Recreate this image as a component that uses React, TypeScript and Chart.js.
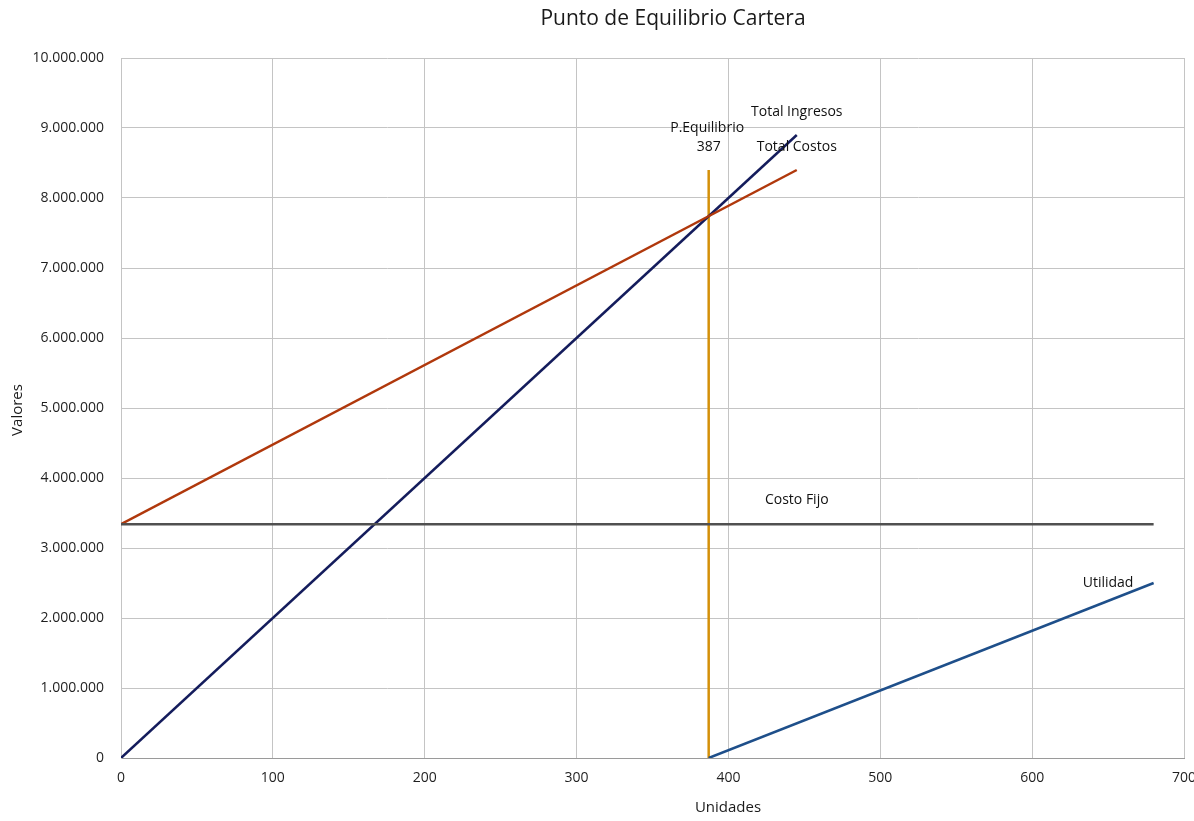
import React, { useEffect, useRef } from "react";
import { Chart, registerables } from "chart.js";

Chart.register(...registerables);

// Data (units -> values)
const ingresosX = [0, 445];
const ingresosY = [0, 8900000];
const costosX = [0, 445];
const costosY = [3340000, 8400000];
const fijoX = [0, 680];
const fijoY = [3340000, 3340000];
const utilidadX = [387, 680];
const utilidadY = [0, 2500000];
const equilibrioX = [387, 387];
const equilibrioY = [0, 8400000];

const chartTitle = "Punto de Equilibrio Cartera";
const xTitle = "Unidades";
const yTitle = "Valores";

// Text annotations: [text, x (units), y (value)]
const annotations: [string, number, number][] = [
  ["Total Ingresos", 445, 9230000],
  ["Total Costos", 445, 8730000],
  ["P.Equilibrio", 386, 9000000],
  ["387", 387, 8730000],
  ["Costo Fijo", 445, 3690000],
  ["Utilidad", 650, 2500000],
];

const FONT = "'Open Sans', 'Noto Sans', sans-serif";

function fmt(v: number): string {
  return String(Math.round(v)).replace(/\B(?=(\d{3})+(?!\d))/g, ".");
}

function pts(xs: number[], ys: number[]) {
  return xs.map((x, i) => ({ x, y: ys[i] }));
}

const textPlugin = {
  id: "texts",
  afterDraw(chart: any) {
    const { ctx, scales } = chart;
    const xs = scales.x;
    const ys = scales.y;
    ctx.save();
    ctx.textAlign = "center";
    ctx.textBaseline = "middle";
    ctx.fillStyle = "#111111";
    ctx.font = `14px ${FONT}`;
    for (const [t, x, y] of annotations) {
      ctx.fillText(t, xs.getPixelForValue(x), ys.getPixelForValue(y));
    }
    ctx.fillStyle = "#1a1a1a";
    ctx.font = `21px ${FONT}`;
    ctx.fillText(chartTitle, 673, 19);
    ctx.font = `15px ${FONT}`;
    ctx.fillText(xTitle, 728, 808);
    ctx.translate(18, 410);
    ctx.rotate(-Math.PI / 2);
    ctx.fillText(yTitle, 0, 0);
    ctx.restore();
  },
};

export default function App() {
  const ref = useRef<HTMLCanvasElement | null>(null);
  useEffect(() => {
    if (!ref.current) return;
    const mk = (label: string, xs: number[], ys: number[], color: string) => ({
      label,
      data: pts(xs, ys),
      showLine: true,
      borderColor: color,
      backgroundColor: color,
      borderWidth: 2.5,
      pointRadius: 0,
      tension: 0,
    });
    const chart = new Chart(ref.current, {
      type: "scatter",
      data: {
        datasets: [
          mk("Costo Fijo", fijoX, fijoY, "#505050"),
          mk("Total Costos", costosX, costosY, "#b0380c"),
          mk("Total Ingresos", ingresosX, ingresosY, "#141c5c"),
          mk("Utilidad", utilidadX, utilidadY, "#1e4f8a"),
          mk("P.Equilibrio", equilibrioX, equilibrioY, "#d4900a"),
        ],
      },
      options: {
        animation: false,
        responsive: false,
        layout: { padding: { left: 0, top: 58, right: 16, bottom: 0 } },
        plugins: {
          legend: { display: false },
          title: { display: false },
          tooltip: { enabled: false },
        },
        scales: {
          x: {
            type: "linear",
            min: 0,
            max: 700,
            ticks: {
              stepSize: 100,
              padding: 12,
              color: "#1f1f1f",
              font: { family: FONT, size: 14 },
              maxRotation: 0,
            },
            grid: { color: "#c4c4c4", lineWidth: 1, drawTicks: false },
            border: { color: "#9a9a9a" },
            afterFit: (s: any) => {
              s.height = 63;
              s.paddingRight = 0;
            },
          },
          y: {
            type: "linear",
            min: 0,
            max: 10000000,
            ticks: {
              stepSize: 1000000,
              padding: 17,
              color: "#1f1f1f",
              font: { family: FONT, size: 14 },
              callback: (v: any) => fmt(Number(v)),
            },
            grid: { color: "#c4c4c4", lineWidth: 1, drawTicks: false },
            border: { color: "#c4c4c4" },
            afterFit: (s: any) => {
              s.width = 121;
            },
          },
        },
      },
      plugins: [textPlugin],
    });
    return () => chart.destroy();
  }, []);
  return (
    <div style={{ position: "absolute", left: 0, top: 0, width: 1194, height: 821, overflow: "hidden", background: "#fff" }}>
      <canvas ref={ref} width={1200} height={821} style={{ display: "block" }} />
    </div>
  );
}
